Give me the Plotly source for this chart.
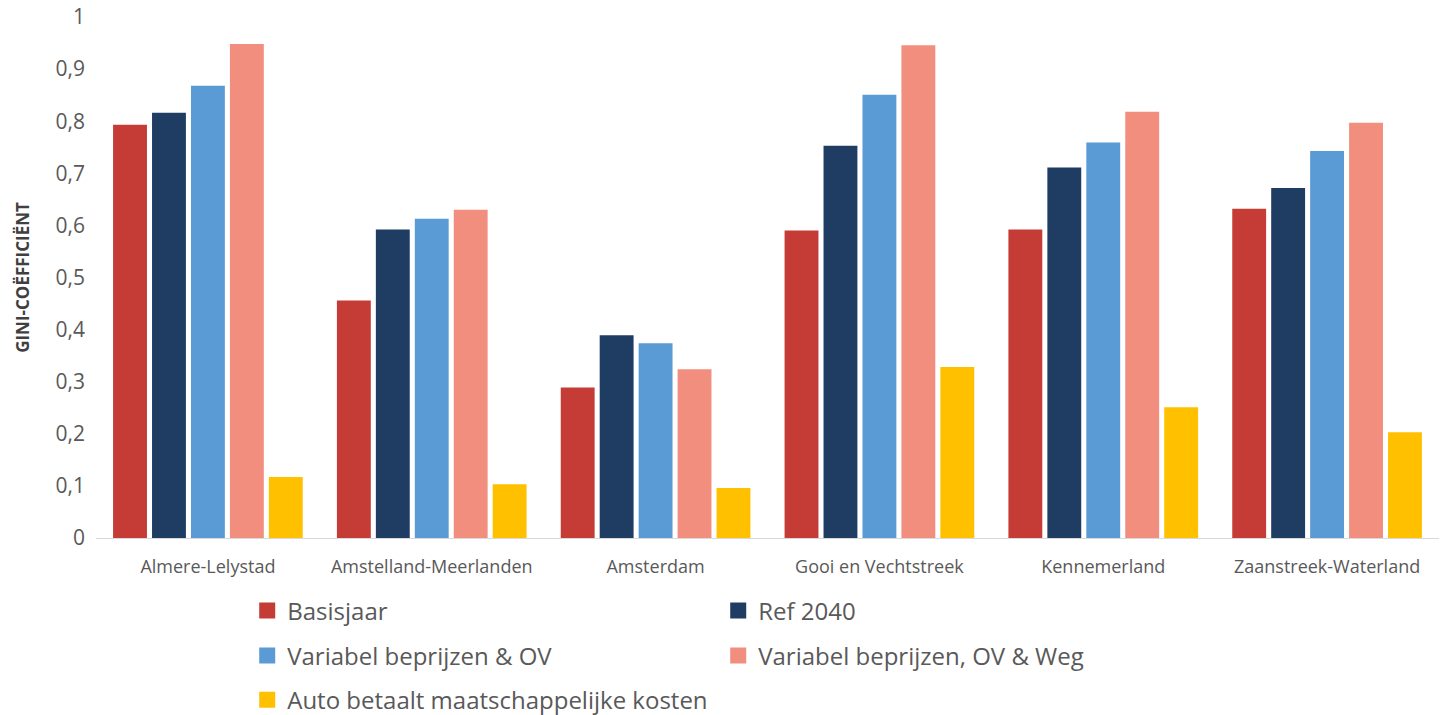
import plotly.graph_objects as go

regions = ["Almere-Lelystad", "Amstelland-Meerlanden", "Amsterdam",
           "Gooi en Vechtstreek", "Kennemerland", "Zaanstreek-Waterland"]

basisjaar = [0.793, 0.456, 0.289, 0.590, 0.592, 0.632]
ref_2040 = [0.816, 0.592, 0.389, 0.753, 0.711, 0.672]
var_ov = [0.868, 0.613, 0.374, 0.851, 0.759, 0.743]
var_ov_weg = [0.948, 0.630, 0.324, 0.946, 0.818, 0.797]
auto_kosten = [0.117, 0.103, 0.096, 0.328, 0.251, 0.203]

y_ticks = [0, 0.1, 0.2, 0.3, 0.4, 0.5, 0.6, 0.7, 0.8, 0.9, 1]
y_tick_text = ["0", "0,1", "0,2", "0,3", "0,4", "0,5", "0,6", "0,7", "0,8", "0,9", "1"]

series = [
    ("Basisjaar", basisjaar, "#C43C35", "legend"),
    ("Ref 2040", ref_2040, "#1F3C63", "legend"),
    ("Variabel beprijzen & OV", var_ov, "#5B9BD5", "legend2"),
    ("Variabel beprijzen, OV & Weg", var_ov_weg, "#F28E7D", "legend2"),
    ("Auto betaalt maatschappelijke kosten", auto_kosten, "#FFC000", "legend3"),
]

fig = go.Figure()
for name, vals, color, leg in series:
    fig.add_trace(go.Bar(x=regions, y=vals, name=name, legendgroup=name,
                         showlegend=False,
                         marker=dict(color=color, line=dict(width=0))))

# legend entries with larger square swatches
for name, vals, color, leg in series:
    fig.add_trace(go.Scatter(x=[None], y=[None], mode="markers", name=name,
                             legendgroup=name, legend=leg,
                             marker=dict(symbol="square", size=16, color=color)))

FONT = "Open Sans"
GREY = "#595959"

leg_common = dict(orientation="h", xanchor="left", yanchor="middle",
                  entrywidth=426, entrywidthmode="pixels",
                  font=dict(family=FONT, size=24, color=GREY),
                  bgcolor="rgba(0,0,0,0)", itemclick=False, itemdoubleclick=False)

fig.update_layout(
    width=1440, height=715,
    margin=dict(l=96, r=1, t=17, b=177, autoexpand=False),
    paper_bgcolor="white", plot_bgcolor="white",
    barmode="group", bargap=0.13, bargroupgap=0.13,
    font=dict(family=FONT, color=GREY),
    legend=dict(x=0.1126, y=-0.140, **leg_common),
    legend2=dict(x=0.1126, y=-0.2265, **leg_common),
    legend3=dict(x=0.1126, y=-0.311, **leg_common),
    xaxis=dict(showline=True, linecolor="#D9D9D9", linewidth=1,
               ticks="", tickfont=dict(family=FONT, size=18, color=GREY),
               ticklabelstandoff=12, showgrid=False),
    yaxis=dict(range=[0, 1], tickvals=y_ticks, ticktext=y_tick_text,
               showgrid=False, zeroline=False, showline=False, ticks="",
               tickfont=dict(family=FONT, size=21, color=GREY),
               ticklabelstandoff=10,
               title=dict(text="<b>GINI-COËFFICIËNT</b>", standoff=21,
                          font=dict(family=FONT, size=17, color="#404040"))),
)

fig.write_html("out.html")
